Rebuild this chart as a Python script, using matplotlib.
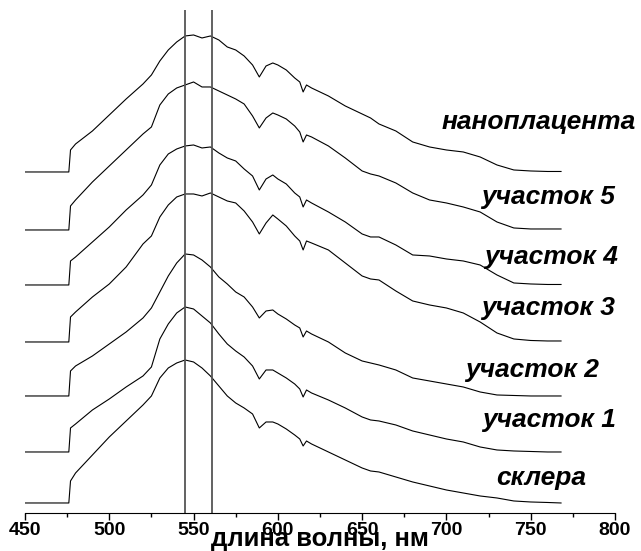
import numpy as np
import matplotlib
matplotlib.use('Agg')
import matplotlib.pyplot as plt
from matplotlib.ticker import MultipleLocator

plt.rcParams['font.family'] = ['Liberation Sans', 'DejaVu Sans']

# wavelength grid, nm
wavelength = [450, 476, 477, 480, 490, 500, 510, 520, 525, 530, 535, 540,
              545, 550, 555, 560, 565, 570, 575, 580, 585, 589, 593, 597,
              600, 605, 610, 613, 615, 617, 620, 630, 640, 650, 655, 660,
              670, 680, 690, 700, 710, 720, 730, 740, 750, 760, 768]

# spectra (arb. units)
nanoplacenta = [0, 0, 22, 28, 41, 57, 73, 88, 97, 111, 122, 130,
                136, 137, 134, 136, 132, 125, 122, 116, 107, 95, 106, 109,
                107, 102, 94, 90, 80, 87, 84, 76, 66, 58, 54, 48,
                41, 30, 25, 22, 20, 15, 7, 2, 1, 0.5, 0.5]
site5 = [0, 0, 24, 30, 48, 64, 80, 96, 103, 125, 136, 142,
         145, 148, 143, 143, 139, 135, 131, 126, 114, 102, 112, 117,
         115, 111, 104, 98, 88, 95, 93, 84, 72, 59, 56, 54,
         47, 37, 30, 27, 23, 18, 8, 2, 1, 1, 1]
site4 = [0, 0, 24, 28, 43, 58, 75, 90, 100, 120, 131, 136,
         139, 140, 137, 138, 132, 127, 124, 116, 109, 95, 106, 110,
         106, 101, 92, 88, 78, 85, 82, 73, 63, 51, 48, 48,
         40, 30, 29, 26, 24, 20, 10, 2, 1, 0.5, 0.5]
site3 = [0, 0, 25, 30, 45, 58, 75, 98, 106, 125, 137, 145,
         148, 148, 146, 149, 145, 141, 139, 131, 120, 108, 119, 127,
         123, 116, 106, 101, 92, 101, 99, 92, 79, 66, 63, 62,
         51, 41, 37, 34, 29, 20, 9, 3, 1.5, 1, 1]
site2 = [0, 0, 25, 30, 40, 52, 64, 78, 88, 104, 120, 133,
         142, 141, 136, 129, 119, 112, 104, 99, 89, 78, 85, 86,
         82, 77, 71, 68, 59, 65, 62, 54, 43, 35, 33, 31,
         26, 18, 15, 12, 9, 4, 1, 0.5, 0, 0, 0]
site1 = [0, 0, 24, 28, 42, 53, 65, 76, 85, 113, 128, 139,
         145, 143, 136, 129, 118, 108, 101, 95, 86, 73, 82, 82,
         79, 74, 68, 63, 55, 62, 59, 52, 44, 35, 32, 31,
         27, 21, 17, 13, 10, 5, 2, 1, 0.5, 0, 0]
sclera = [0, 0, 22, 30, 48, 66, 82, 98, 107, 125, 135, 140,
          143, 141, 135, 127, 117, 107, 100, 95, 89, 75, 81, 81,
          79, 74, 68, 64, 57, 62, 59, 51, 43, 35, 32, 31,
          26, 21, 17, 13, 10, 7, 5, 2, 1, 0.5, 0]

spectra = [nanoplacenta, site5, site4, site3, site2, site1, sclera]
names = ['наноплацента', 'участок 5', 'участок 4', 'участок 3',
         'участок 2', 'участок 1', 'склера']
offsets = [341, 283, 228, 171, 117, 61, 10]

# reference lines, nm
marker_lines = [545, 561]

fig = plt.figure(figsize=(6.41, 5.51), dpi=100)
ax = fig.add_axes([0.039, 0.069, 0.9204, 0.9129])

for spec, shift in zip(spectra, offsets):
    ax.plot(wavelength, np.array(spec) + shift, color='black', lw=0.8)

for xv in marker_lines:
    ax.axvline(xv, color='#555555', lw=1.3)

# curve names, placed above each tail
label_pos = [(755, 391), (760, 316), (762, 256), (760, 205),
             (751, 143), (761, 93), (756, 35)]
for name, (lx, ly) in zip(names, label_pos):
    ax.text(lx, ly, name, fontsize=19, fontweight='bold', style='italic',
            ha='center', va='center', clip_on=False)

ax.set_xlim(450, 800)
ax.set_ylim(0, 503)
for side in ['left', 'top', 'right']:
    ax.spines[side].set_visible(False)
ax.set_yticks([])
ax.xaxis.set_major_locator(MultipleLocator(50))
ax.xaxis.set_minor_locator(MultipleLocator(25))
ax.tick_params(axis='x', which='major', length=5, width=1, pad=1.5, labelsize=14)
ax.tick_params(axis='x', which='minor', length=3, width=1)
for lbl in ax.get_xticklabels():
    lbl.set_fontweight('bold')
ax.set_xlabel('длина волны, нм', fontsize=18.5, fontweight='bold', labelpad=-9)

plt.savefig('out.png', dpi=100)
